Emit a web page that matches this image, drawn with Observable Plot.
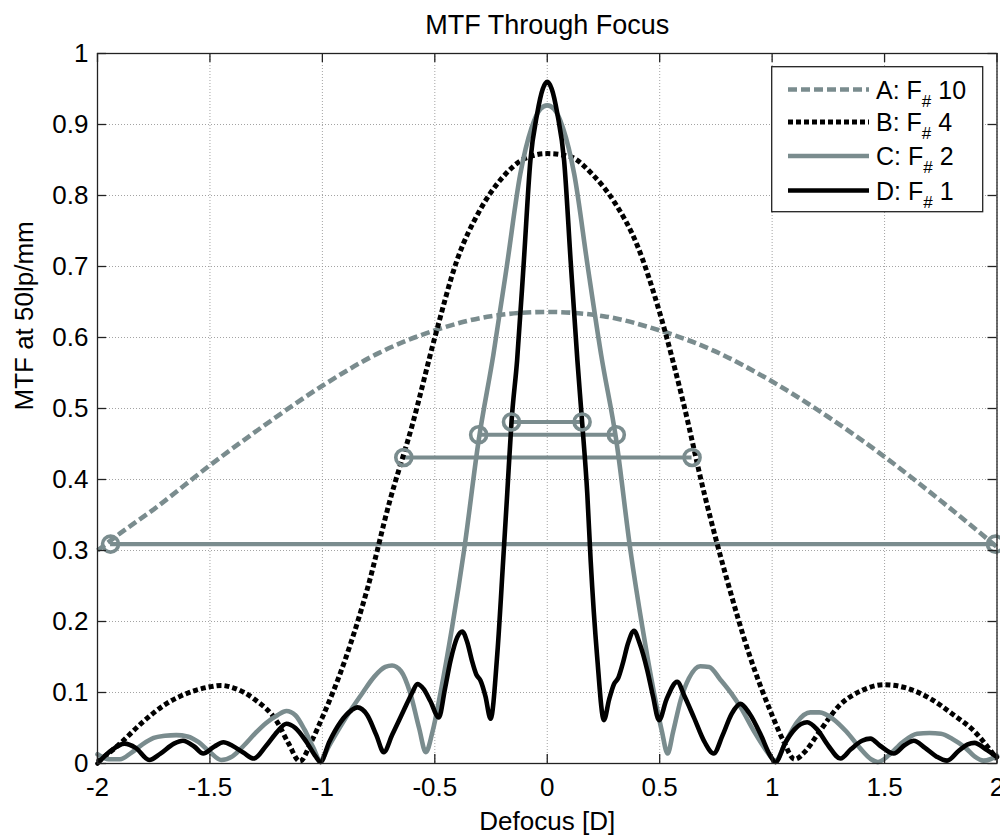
<!DOCTYPE html>
<html><head><meta charset="utf-8">
<script src="https://cdn.jsdelivr.net/npm/d3@7"></script>
<script src="https://cdn.jsdelivr.net/npm/@observablehq/plot@0.6"></script>
<style>
body{margin:0;background:#fff;}
#wrap{position:relative;width:1000px;height:836px;font-family:"Liberation Sans",Arial,sans-serif;}
#legend{position:absolute;left:0;top:0;pointer-events:none;}
</style></head><body><div id="wrap"></div>
<script>
// ---------- data ----------
const xTicks = [-2, -1.5, -1, -0.5, 0, 0.5, 1, 1.5, 2];
const yTicks = [0, 0.1, 0.2, 0.3, 0.4, 0.5, 0.6, 0.7, 0.8, 0.9, 1];

const seriesNames = ["A: F", "B: F", "C: F", "D: F"];
const seriesFnum = ["10", "4", "2", "1"];

// A: F# 10
const aX = [-2, -1.9, -1.75, -1.5, -1.25, -1.0, -0.75, -0.5, -0.25, 0, 0.25, 0.5, 0.75, 1.0, 1.25, 1.5, 1.75, 2.0];
const aY = [0.300, 0.324, 0.358, 0.420, 0.478, 0.532, 0.578, 0.610, 0.630, 0.636, 0.630, 0.610, 0.580, 0.538, 0.488, 0.432, 0.370, 0.305];

// B: F# 4
const bX = [-2.0, -1.9, -1.8, -1.7, -1.6, -1.5, -1.45, -1.4, -1.3, -1.2, -1.15, -1.1, -1.05, -1.0, -0.9, -0.8, -0.7, -0.6, -0.5, -0.4, -0.3, -0.2, -0.1, 0,
            0.1, 0.2, 0.3, 0.4, 0.5, 0.6, 0.7, 0.8, 0.9, 1.0, 1.05, 1.1, 1.15, 1.2, 1.3, 1.4, 1.5, 1.6, 1.7, 1.8, 1.9, 2.0];
const bY = [0.002, 0.028, 0.058, 0.083, 0.099, 0.108, 0.110, 0.107, 0.090, 0.058, 0.028, 0.003, 0.030, 0.065, 0.145, 0.246, 0.370, 0.477, 0.600, 0.710, 0.779, 0.825, 0.852, 0.859,
            0.855, 0.830, 0.790, 0.730, 0.635, 0.515, 0.378, 0.258, 0.152, 0.068, 0.032, 0.006, 0.018, 0.040, 0.082, 0.103, 0.111, 0.106, 0.092, 0.070, 0.045, 0.006];

// C: F# 2
const cX = [-2.0, -1.95, -1.9, -1.85, -1.8, -1.75, -1.7, -1.65, -1.6, -1.55, -1.5, -1.45, -1.4, -1.35, -1.3, -1.25, -1.2, -1.16, -1.12, -1.08, -1.04, -1.01,
            -0.97, -0.92, -0.87, -0.82, -0.77, -0.72, -0.69, -0.65, -0.61, -0.57, -0.54, -0.51, -0.475, -0.423, -0.37, -0.305, -0.24, -0.18, -0.12, -0.07, -0.03, 0,
            0.03, 0.07, 0.12, 0.18, 0.24, 0.307, 0.37, 0.423, 0.475, 0.51, 0.535, 0.56, 0.593, 0.63, 0.68, 0.72, 0.77, 0.82, 0.86, 0.92, 0.97, 1.015,
            1.06, 1.11, 1.17, 1.21, 1.27, 1.33, 1.39, 1.44, 1.47, 1.52, 1.58, 1.645, 1.7, 1.75, 1.8, 1.86, 1.9, 1.94, 1.97, 2.0];
const cY = [0.013, 0.006, 0.006, 0.015, 0.027, 0.036, 0.039, 0.040, 0.038, 0.030, 0.016, 0.005, 0.010, 0.025, 0.042, 0.057, 0.068, 0.074, 0.068, 0.048, 0.022, 0.004,
            0.025, 0.052, 0.077, 0.100, 0.122, 0.136, 0.138, 0.130, 0.100, 0.050, 0.016, 0.045, 0.099, 0.192, 0.300, 0.455, 0.575, 0.700, 0.830, 0.895, 0.922, 0.927,
            0.922, 0.895, 0.830, 0.700, 0.575, 0.455, 0.300, 0.192, 0.099, 0.045, 0.014, 0.045, 0.089, 0.120, 0.137, 0.136, 0.118, 0.098, 0.079, 0.045, 0.020, 0.004,
            0.030, 0.058, 0.072, 0.072, 0.063, 0.045, 0.022, 0.006, 0.002, 0.012, 0.030, 0.042, 0.043, 0.042, 0.035, 0.022, 0.010, 0.004, 0.006, 0.011];

// D: F# 1
const dX = [-2.0, -1.94, -1.88, -1.83, -1.77, -1.72, -1.66, -1.62, -1.57, -1.53, -1.48, -1.44, -1.4, -1.35, -1.305, -1.25, -1.2, -1.16, -1.12, -1.07, -1.03, -1.008,
            -0.97, -0.92, -0.87, -0.845, -0.8, -0.76, -0.727, -0.69, -0.638, -0.6, -0.578, -0.55, -0.52, -0.482, -0.455, -0.43, -0.4, -0.378, -0.355, -0.335, -0.315, -0.297, -0.275, -0.252,
            -0.222, -0.196, -0.178, -0.159, -0.134, -0.104, -0.075, -0.045, -0.02, 0,
            0.02, 0.045, 0.075, 0.104, 0.134, 0.155, 0.178, 0.193, 0.222, 0.252, 0.275, 0.297, 0.315, 0.335, 0.36, 0.386, 0.41, 0.445, 0.47, 0.497, 0.53, 0.578, 0.61, 0.652, 0.7, 0.74,
            0.78, 0.82, 0.859, 0.9, 0.95, 0.99, 1.015, 1.06, 1.1, 1.156, 1.2, 1.25, 1.304, 1.35, 1.4, 1.437, 1.48, 1.541, 1.59, 1.63, 1.68, 1.73, 1.778, 1.83, 1.87, 1.9, 1.95, 2.0];
const dY = [0.000, 0.018, 0.028, 0.022, 0.005, 0.014, 0.028, 0.032, 0.024, 0.014, 0.024, 0.030, 0.025, 0.015, 0.007, 0.025, 0.045, 0.056, 0.050, 0.030, 0.010, 0.002,
            0.030, 0.058, 0.075, 0.079, 0.068, 0.040, 0.016, 0.040, 0.075, 0.100, 0.112, 0.105, 0.088, 0.065, 0.105, 0.145, 0.178, 0.186, 0.170, 0.145, 0.125, 0.117, 0.095, 0.063,
            0.155, 0.286, 0.380, 0.481, 0.568, 0.708, 0.849, 0.915, 0.950, 0.960,
            0.950, 0.915, 0.849, 0.708, 0.568, 0.481, 0.380, 0.286, 0.150, 0.061, 0.090, 0.112, 0.120, 0.140, 0.170, 0.187, 0.170, 0.131, 0.095, 0.061, 0.090, 0.115, 0.095, 0.065, 0.030, 0.014,
            0.040, 0.070, 0.084, 0.070, 0.040, 0.012, 0.002, 0.030, 0.048, 0.058, 0.048, 0.025, 0.007, 0.020, 0.032, 0.035, 0.025, 0.014, 0.026, 0.032, 0.022, 0.010, 0.004, 0.018, 0.027, 0.029, 0.020, 0.009];

// half-max width lines (level, left, right)
const levelY = [0.309, 0.431, 0.463, 0.481];
const levelLeft = [-1.942, -0.638, -0.305, -0.159];
const levelRight = [1.993, 0.644, 0.307, 0.155];

// ---------- build ----------
const gray = "#7a8c8e";
const dashA = "9,4", dashB = "5,3";
const pts = (xs, ys) => xs.map((x, i) => ({x, y: ys[i]}));
const A = pts(aX, aY), B = pts(bX, bY), C = pts(cX, cY), D = pts(dX, dY);
const levels = levelY.map((y, i) => ({y, x1: levelLeft[i], x2: levelRight[i]}));
const markers = levels.flatMap(l => [{x: l.x1, y: l.y}, {x: l.x2, y: l.y}]);

const W = 1000, H = 836, ML = 97, MR = 3.5, MT = 53, MB = 73;
const FH = H - MT - MB, FW = W - ML - MR, TK = 9;
const font = "'Liberation Sans', Arial, sans-serif";
const LW = 4.6, LWB = 5;

const plot = Plot.plot({
  width: W, height: H,
  marginLeft: ML, marginRight: MR, marginTop: MT, marginBottom: MB,
  style: {fontFamily: font, fontSize: "26px", background: "#fff", color: "#000", overflow: "visible"},
  x: {domain: [-2, 2]},
  y: {domain: [0, 1]},
  marks: [
    Plot.gridX(xTicks, {stroke: "#8c8c8c", strokeOpacity: 0.8, strokeWidth: 1, strokeDasharray: "1,2"}),
    Plot.gridY(yTicks, {stroke: "#8c8c8c", strokeOpacity: 0.8, strokeWidth: 1, strokeDasharray: "1,2"}),
    Plot.ruleY(levels, {y: "y", x1: "x1", x2: "x2", stroke: gray, strokeWidth: 4.2}),
    Plot.line(A, {x: "x", y: "y", stroke: gray, strokeWidth: LW, strokeDasharray: dashA, strokeLinecap: "butt", strokeLinejoin: "miter", curve: "monotone-x"}),
    Plot.line(B, {x: "x", y: "y", stroke: "#000", strokeWidth: LWB, strokeDasharray: dashB, strokeLinecap: "butt", strokeLinejoin: "miter", curve: "monotone-x"}),
    Plot.line(C, {x: "x", y: "y", stroke: gray, strokeWidth: LW, curve: "monotone-x"}),
    Plot.line(D, {x: "x", y: "y", stroke: "#000", strokeWidth: LW, curve: "monotone-x"}),
    Plot.dot(markers, {x: "x", y: "y", r: 8, stroke: gray, strokeWidth: 3.6, fill: "none"}),
    // inward ticks on all four sides
    Plot.tickX(xTicks, {x: d => d, insetTop: FH - TK, stroke: "#222", strokeWidth: 1.3}),
    Plot.tickX(xTicks, {x: d => d, insetBottom: FH - TK, stroke: "#222", strokeWidth: 1.3}),
    Plot.tickY(yTicks, {y: d => d, insetRight: FW - TK, stroke: "#222", strokeWidth: 1.3}),
    Plot.tickY(yTicks, {y: d => d, insetLeft: FW - TK, stroke: "#222", strokeWidth: 1.3}),
    Plot.frame({stroke: "#222", strokeWidth: 1.3}),
    Plot.axisX(xTicks, {tickSize: 0, tickPadding: 14, tickFormat: d => String(d), fontSize: 26, label: null, fill: "#000"}),
    Plot.axisY(yTicks, {tickSize: 0, tickPadding: 9, tickFormat: d => String(d), fontSize: 26, label: null, fill: "#000"}),
    Plot.text(["MTF Through Focus"], {text: d => d, frameAnchor: "top", dy: -20, lineAnchor: "bottom", fontSize: 27, fill: "#000"}),
    Plot.text(["Defocus [D]"], {text: d => d, frameAnchor: "bottom", dy: 66, lineAnchor: "bottom", fontSize: 26, fill: "#000"}),
    Plot.text(["MTF at 50lp/mm"], {text: d => d, frameAnchor: "left", rotate: -90, dx: -65, dy: 2, lineAnchor: "bottom", fontSize: 26, fill: "#000"})
  ]
});
const wrap = document.getElementById("wrap");
wrap.appendChild(plot);

// ---------- legend ----------
const leg = d3.select(wrap).append("svg").attr("id", "legend")
  .attr("width", W).attr("height", H).style("font-family", font);
leg.append("rect").attr("x", 771.7).attr("y", 66.7).attr("width", 211).attr("height", 145)
  .attr("fill", "#fff").attr("stroke", "#222").attr("stroke-width", 1.3);
const legStyle = [
  {stroke: gray, dash: dashA, w: LW},
  {stroke: "#000", dash: dashB, w: LWB},
  {stroke: gray, dash: null, w: LW},
  {stroke: "#000", dash: null, w: LW}
];
const rowY = [89.5, 122, 156, 190.5];
seriesNames.forEach((name, i) => {
  const y = rowY[i];
  leg.append("line").attr("x1", 788).attr("x2", 869).attr("y1", y).attr("y2", y)
    .attr("stroke", legStyle[i].stroke).attr("stroke-width", legStyle[i].w)
    .attr("stroke-dasharray", legStyle[i].dash);
  const t = leg.append("text").attr("x", 876).attr("y", y + 9).attr("font-size", 25).attr("fill", "#000");
  t.append("tspan").text(name);
  t.append("tspan").attr("dy", 8).attr("font-size", 17).text("#");
  t.append("tspan").attr("dy", -8).text(" " + seriesFnum[i]);
});
</script>
</body></html>
